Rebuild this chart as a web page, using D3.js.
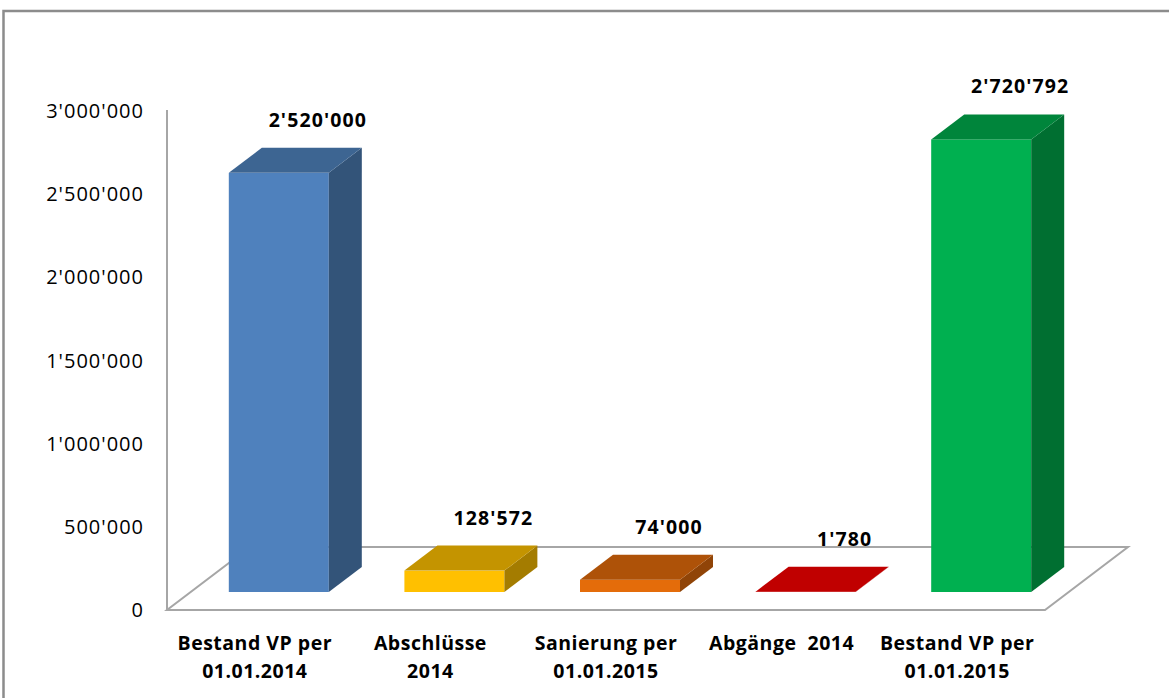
<!DOCTYPE html>
<html>
<head>
<meta charset="utf-8">
<script src="https://cdnjs.cloudflare.com/ajax/libs/d3/7.8.5/d3.min.js"></script>
<style>
  body { margin: 0; background: #fff; }
  svg { display: block; font-family: "Open Sans", "Noto Sans", sans-serif; }
</style>
</head>
<body>
<div id="chart"></div>
<script>
var width = 1169, height = 698;

// data
var categories = ["Bestand VP per 01.01.2014", "Abschlüsse 2014", "Sanierung per 01.01.2015", "Abgänge  2014", "Bestand VP per 01.01.2015"];
var catLines = [["Bestand VP per", "01.01.2014"], ["Abschlüsse", "2014"], ["Sanierung per", "01.01.2015"], ["Abgänge  2014"], ["Bestand VP per", "01.01.2015"]];
var values = [2520000, 128572, 74000, 1780, 2720792];
var valueLabels = ["2'520'000", "128'572", "74'000", "1'780", "2'720'792"];
var tickValues = [0, 500000, 1000000, 1500000, 2000000, 2500000, 3000000];
var tickLabels = ["0", "500'000", "1'000'000", "1'500'000", "2'000'000", "2'500'000", "3'000'000"];
var frontColors = ["#4F81BD", "#FFC000", "#E46C0A", "#C00000", "#00B050"];
var topColors   = ["#3D6592", "#C49400", "#AE5208", "#C00000", "#00853B"];
var sideColors  = ["#335479", "#A47C00", "#904407", "#A00000", "#006F31"];

// 3d geometry
var plotLeft = 167, plotRight = 1045, floorY = 610, topY = 111;
var floorDx = 83, floorDy = -63;   // full floor depth
var barDx = 24, barDy = -18;       // bar front face offset from front plane
var depthDx = 33, depthDy = -25;   // bar depth

var x = d3.scaleBand().domain(categories).range([plotLeft, plotRight]).padding(0);
var y = d3.scaleLinear().domain([0, 3000000]).range([floorY, topY]);
var barW = 100;

var svg = d3.select("#chart").append("svg")
    .attr("width", width)
    .attr("height", height);

// outer border
svg.append("path")
    .attr("d", "M3.5," + height + " L3.5,11 L" + width + ",11")
    .attr("fill", "none")
    .attr("stroke", "#8c8c8c")
    .attr("stroke-width", 2.5);

// floor
var floorPts = [[plotLeft, floorY], [plotRight, floorY], [plotRight + floorDx, floorY + floorDy], [plotLeft + floorDx, floorY + floorDy]];
svg.append("polygon")
    .attr("points", floorPts.map(function(p) { return p.join(","); }).join(" "))
    .attr("fill", "#fff")
    .attr("stroke", "#a6a6a6")
    .attr("stroke-width", 2);

// vertical axis line
svg.append("line")
    .attr("x1", plotLeft).attr("x2", plotLeft)
    .attr("y1", y(3000000) - 1).attr("y2", floorY)
    .attr("stroke", "#a6a6a6")
    .attr("stroke-width", 2);

// tick labels
svg.append("g").selectAll("text")
    .data(tickValues)
    .enter().append("text")
    .attr("x", 144)
    .attr("y", function(d) { return y(d) + 7; })
    .attr("text-anchor", "end")
    .style("font-size", "20px")
    .style("letter-spacing", "1px")
    .style("fill", "#000")
    .text(function(d, i) { return tickLabels[i]; });

// bars
var bars = svg.append("g").selectAll("g")
    .data(values)
    .enter().append("g");

function pts(arr) { return arr.map(function(p) { return p.join(","); }).join(" "); }

bars.each(function(d, i) {
  var g = d3.select(this);
  var cx = x(categories[i]) + x.bandwidth() / 2;
  var x0 = cx - barW / 2 + barDx, x1 = x0 + barW;
  var yb = floorY + barDy;
  var yt = yb - (floorY - y(d));
  // front
  g.append("rect")
    .attr("x", x0).attr("y", yt)
    .attr("width", barW).attr("height", Math.max(yb - yt, 0))
    .attr("fill", frontColors[i]);
  // side
  g.append("polygon")
    .attr("points", pts([[x1, yt], [x1 + depthDx, yt + depthDy], [x1 + depthDx, yb + depthDy], [x1, yb]]))
    .attr("fill", sideColors[i]);
  // top
  g.append("polygon")
    .attr("points", pts([[x0, yt], [x0 + depthDx, yt + depthDy], [x1 + depthDx, yt + depthDy], [x1, yt]]))
    .attr("fill", topColors[i]);
  // value label
  g.append("text")
    .attr("x", cx + barDx + depthDx + 6)
    .attr("y", yt + depthDy - 21)
    .attr("text-anchor", "middle")
    .style("font-size", "19.5px")
    .style("font-weight", "bold")
    .style("letter-spacing", "1.1px")
    .style("fill", "#000")
    .text(valueLabels[i]);
});

// category labels
var cat = svg.append("g").selectAll("text")
    .data(categories)
    .enter().append("text")
    .attr("text-anchor", "middle")
    .attr("xml:space", "preserve")
    .style("white-space", "pre")
    .style("font-size", "19.5px")
    .style("font-weight", "bold")
    .style("letter-spacing", "0.5px")
    .style("fill", "#000");

cat.each(function(d, i) {
  var t = d3.select(this);
  var cx = x(d) + x.bandwidth() / 2;
  catLines[i].forEach(function(line, j) {
    t.append("tspan")
      .attr("x", cx)
      .attr("y", 650 + j * 28)
      .text(line);
  });
});
</script>
</body>
</html>
